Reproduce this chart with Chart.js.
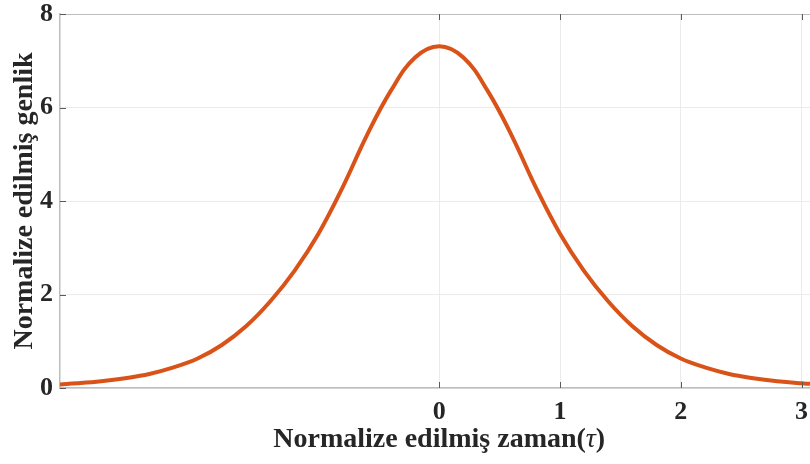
<!DOCTYPE html>
<html lang="tr">
<head>
    <meta charset="UTF-8">
    <title>Normalize genlik</title>
    <script src="https://cdn.jsdelivr.net/npm/chart.js"></script>
    <style>
        html, body { margin: 0; padding: 0; background: #fff; overflow: hidden; }
        .chart-container { width: 810px; height: 464px; position: relative; }
    </style>
</head>
<body>
    <div class="chart-container">
        <canvas id="pulseChart"></canvas>
    </div>

    <script>
        // normalized time samples and amplitude
        const tau = [-3.14, -3.0, -2.8, -2.6, -2.4, -2.2, -2.0, -1.8, -1.6, -1.4, -1.2, -1.0,
                     -0.8, -0.6, -0.4, -0.2, 0, 0.2, 0.4, 0.6, 0.8, 1.0, 1.2, 1.4, 1.6, 1.8,
                     2.0, 2.2, 2.4, 2.6, 2.8, 3.0, 3.07];
        const amplitude = [0.077, 0.10, 0.145, 0.21, 0.30, 0.44, 0.63, 0.92, 1.32, 1.85, 2.50, 3.30,
                           4.29, 5.40, 6.36, 7.07, 7.31, 7.07, 6.36, 5.40, 4.29, 3.30, 2.50, 1.85, 1.32, 0.92,
                           0.63, 0.44, 0.30, 0.21, 0.145, 0.10, 0.09];
        const xTicks = [0, 1, 2, 3];
        const yTicks = [0, 2, 4, 6, 8];

        const textColor = '#262626';
        const serif = "'Liberation Serif', 'Times New Roman', serif";

        // x title with an italic tau, centred under zero
        const xTitlePlugin = {
            id: 'xTitle',
            afterDraw(chart) {
                const c = chart.ctx;
                const parts = [
                    { t: 'Normalize edilmiş zaman(', f: 'bold 28px ' + serif },
                    { t: 'τ', f: 'italic 28px ' + serif },
                    { t: ')', f: 'bold 28px ' + serif }
                ];
                c.save();
                let total = 0;
                parts.forEach(p => { c.font = p.f; p.w = c.measureText(p.t).width; total += p.w; });
                let x = chart.scales.x.getPixelForValue(0) - total / 2;
                c.fillStyle = textColor;
                c.textBaseline = 'middle';
                parts.forEach(p => { c.font = p.f; c.fillText(p.t, x, 440); x += p.w; });
                c.restore();
            }
        };

        // short inward tick marks on the box edges
        const innerTicks = {
            id: 'innerTicks',
            afterDatasetsDraw(chart) {
                const c = chart.ctx;
                const a = chart.chartArea;
                const xs = chart.scales.x, ys = chart.scales.y;
                const len = 6;
                c.save();
                c.strokeStyle = '#5a5a5a';
                c.lineWidth = 1;
                c.beginPath();
                xTicks.forEach(v => {
                    const px = Math.round(xs.getPixelForValue(v)) + 0.5;
                    c.moveTo(px, a.bottom); c.lineTo(px, a.bottom - len);
                    c.moveTo(px, a.top); c.lineTo(px, a.top + len);
                });
                yTicks.forEach(v => {
                    const py = Math.round(ys.getPixelForValue(v)) + 0.5;
                    c.moveTo(a.left, py); c.lineTo(a.left + len, py);
                });
                c.stroke();
                c.restore();
            }
        };

        const ctx = document.getElementById('pulseChart').getContext('2d');
        new Chart(ctx, {
            type: 'line',
            data: {
                datasets: [{
                    data: tau.map((t, i) => ({ x: t, y: amplitude[i] })),
                    borderColor: '#D95319',
                    borderWidth: 4,
                    pointRadius: 0,
                    tension: 0.4,
                    fill: false
                }]
            },
            options: {
                responsive: true,
                maintainAspectRatio: false,
                animation: false,
                layout: { padding: { top: 14, right: 0, left: 0, bottom: 0 } },
                plugins: { legend: { display: false }, tooltip: { enabled: false } },
                scales: {
                    x: {
                        type: 'linear',
                        min: -3.14,
                        max: 3.07,
                        afterBuildTicks: s => { s.ticks = xTicks.map(v => ({ value: v })); },
                        afterFit: s => { s.height = 76; s.paddingLeft = 0; s.paddingRight = 0; },
                        border: { color: '#bdbdbd', width: 1.5 },
                        grid: { color: '#ebebeb', drawTicks: false },
                        ticks: {
                            color: textColor,
                            padding: 9,
                            font: { family: serif, size: 26, weight: 'bold' },
                            maxRotation: 0
                        }
                    },
                    y: {
                        min: 0,
                        max: 8,
                        afterBuildTicks: s => { s.ticks = yTicks.map(v => ({ value: v })); },
                        afterFit: s => { s.width = 60; s.paddingTop = 0; s.paddingBottom = 0; },
                        border: { color: '#bdbdbd', width: 1.5 },
                        grid: {
                            color: c => c.tick && c.tick.value === 8 ? '#bdbdbd' : '#ebebeb',
                            drawTicks: false
                        },
                        ticks: {
                            color: textColor,
                            padding: 7,
                            font: { family: serif, size: 26, weight: 'bold' }
                        },
                        title: {
                            display: true,
                            text: 'Normalize edilmiş genlik',
                            color: textColor,
                            padding: { top: 8, bottom: 0 },
                            font: { family: serif, size: 28, weight: 'bold' }
                        }
                    }
                }
            },
            plugins: [xTitlePlugin, innerTicks]
        });
    </script>
</body>
</html>
